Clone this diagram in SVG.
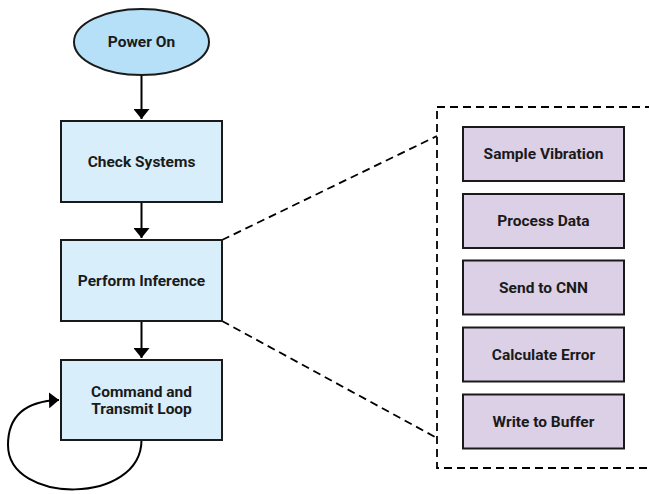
<svg xmlns="http://www.w3.org/2000/svg" width="649" height="494" viewBox="0 0 649 494">
  <style>
    .lbl { font-family: Roboto, "Liberation Sans", sans-serif; font-weight: bold; font-size: 15.5px; fill: #1a1a1a; text-anchor: middle; dominant-baseline: central; }
    .step { fill: #d9eefb; stroke: #1a1a1a; stroke-width: 2; }
    .sub { fill: #dcd0e6; stroke: #1a1a1a; stroke-width: 2; }
    .wire { fill: none; stroke: #000; stroke-width: 2; }
    .dash { fill: none; stroke: #000; stroke-width: 1.8; stroke-dasharray: 8 5; }
  </style>
  <defs>
    <marker id="arrow" viewBox="0 0 10 16" refX="10" refY="8" markerWidth="10" markerHeight="16" markerUnits="userSpaceOnUse" orient="auto">
      <path d="M0,0 L10,8 L0,16 Z" fill="#000"/>
    </marker>
  </defs>

  <!-- expanded view of the inference stage -->
  <g id="inference-detail">
    <rect x="437" y="107" width="230" height="361" fill="#eee7f5" class="dash"/>
  </g>

  <g id="connectors">
    <line class="wire" x1="141.5" y1="75" x2="141.5" y2="119" marker-end="url(#arrow)"/>
    <line class="wire" x1="141.5" y1="202" x2="141.5" y2="238" marker-end="url(#arrow)"/>
    <line class="wire" x1="141.5" y1="321" x2="141.5" y2="358" marker-end="url(#arrow)"/>
    <path class="wire" d="M141.5,440 C141.5,505 8,505 8,445 C8,412 30,401 59,400" marker-end="url(#arrow)"/>
    <line class="dash" x1="222" y1="240" x2="437" y2="136"/>
    <line class="dash" x1="222" y1="321" x2="437" y2="438"/>
  </g>

  <g id="power-on">
    <ellipse cx="141.5" cy="42" rx="67.5" ry="33" fill="#b5e0f7" stroke="#1a1a1a" stroke-width="2"/>
    <text class="lbl" x="141.5" y="42">Power On</text>
  </g>
  <g id="check-systems">
    <rect class="step" x="61" y="121" width="161" height="81"/>
    <text class="lbl" x="141.5" y="161.5">Check Systems</text>
  </g>
  <g id="perform-inference">
    <rect class="step" x="61" y="240" width="161" height="81"/>
    <text class="lbl" x="141.5" y="280.5">Perform Inference</text>
  </g>
  <g id="command-loop">
    <rect class="step" x="61" y="360" width="161" height="80"/>
    <text class="lbl" x="141.5" y="391.5">Command and</text>
    <text class="lbl" x="141.5" y="408.5">Transmit Loop</text>
  </g>

  <g id="sample-vibration">
    <rect class="sub" x="463" y="127" width="161" height="54"/>
    <text class="lbl" x="543.5" y="154">Sample Vibration</text>
  </g>
  <g id="process-data">
    <rect class="sub" x="463" y="194" width="161" height="54"/>
    <text class="lbl" x="543.5" y="221">Process Data</text>
  </g>
  <g id="send-to-cnn">
    <rect class="sub" x="463" y="260.5" width="161" height="54"/>
    <text class="lbl" x="543.5" y="287.5">Send to CNN</text>
  </g>
  <g id="calculate-error">
    <rect class="sub" x="463" y="327.5" width="161" height="54"/>
    <text class="lbl" x="543.5" y="354.5">Calculate Error</text>
  </g>
  <g id="write-to-buffer">
    <rect class="sub" x="463" y="394.5" width="161" height="54"/>
    <text class="lbl" x="543.5" y="421.5">Write to Buffer</text>
  </g>
</svg>
